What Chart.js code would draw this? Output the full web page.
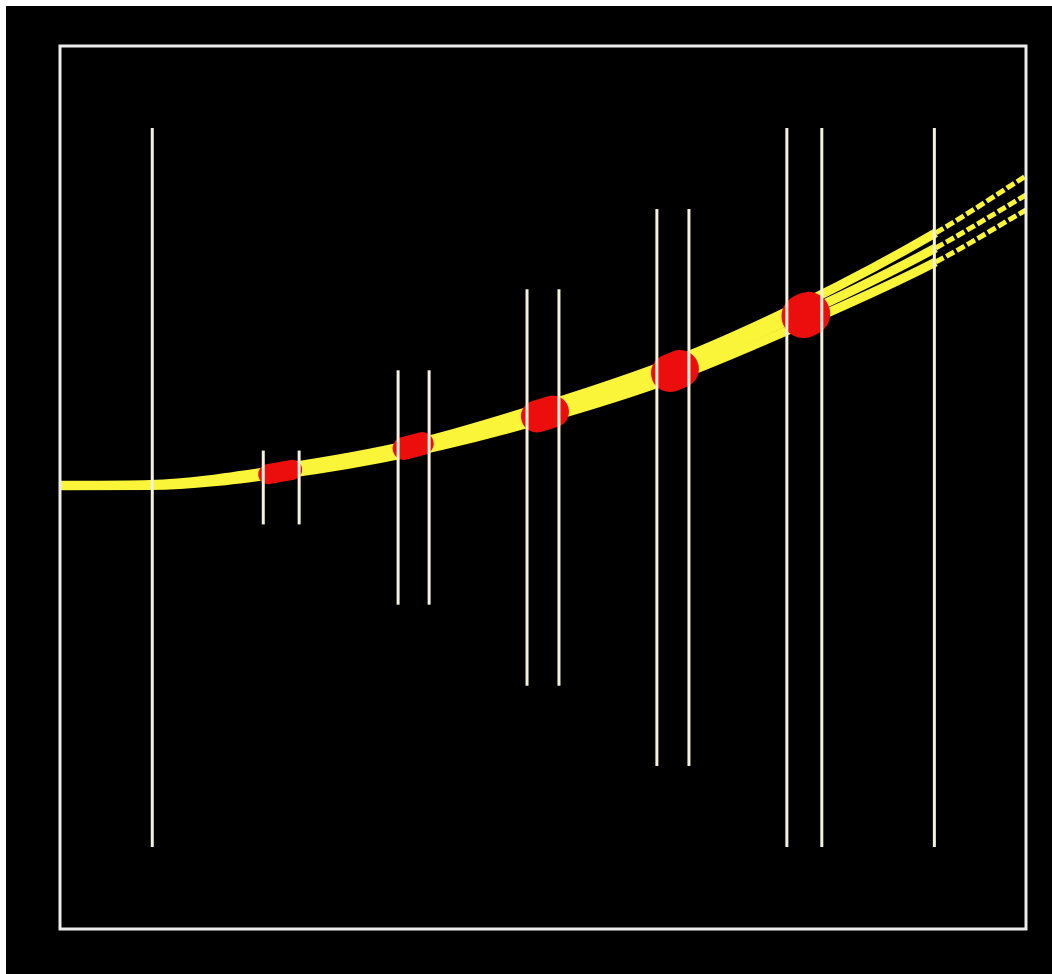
<!DOCTYPE html>
<html>
<head>
<meta charset="utf-8">
<script src="https://cdn.jsdelivr.net/npm/chart.js@4.4.1/dist/chart.umd.min.js"></script>
<style>
  html, body { margin: 0; padding: 0; background: #ffffff; }
  #wrap { position: absolute; left: 6px; top: 6px; width: 1046px; height: 968px; background: #000000; }
</style>
</head>
<body>
<div id="wrap"><canvas id="c"></canvas></div>
<script>
// Vertical window / error lines: x position and half-height (symmetric about 0)
const barX    = [0.015, 0.863, 1.137, 1.893, 2.13, 2.878, 3.122, 3.87, 4.115, 4.863, 5.13, 5.99];
const barHalf = [4.48, 0.46, 0.46, 1.46, 1.46, 2.47, 2.47, 3.47, 3.47, 4.48, 4.48, 4.48];

// Curve band (three nearly coincident curves)
const curveX     = [-0.69, 0, 1, 2, 3, 4, 5, 6, 6.69];
const curveUpper = [0.040, 0.050, 0.240, 0.540, 1.010, 1.570, 2.300, 3.171, 3.881];
const curveMid   = [0.025, 0.031, 0.200, 0.490, 0.928, 1.476, 2.174, 2.984, 3.644];
const curveLower = [0.010, 0.012, 0.160, 0.440, 0.850, 1.370, 2.050, 2.809, 3.457];

// Red blobs centred on the band between each pair of lines
const redXL = [0.900, 1.939, 2.954, 3.970, 4.990];
const redXR = [1.084, 2.077, 3.076, 4.046, 5.026];
const redYL = [0.166, 0.487, 0.886, 1.426, 2.135];
const redYR = [0.220, 0.547, 0.946, 1.476, 2.163];
const redW  = [20, 23, 32, 38, 44];

const datasets = [];
barX.forEach((x, i) => {
  datasets.push({
    data: [{x: x, y: -barHalf[i]}, {x: x, y: barHalf[i]}],
    borderColor: '#f4f1dc', borderWidth: 3, pointRadius: 0, showLine: true, tension: 0
  });
});
redXL.forEach((x, i) => {
  datasets.push({
    data: [{x: x, y: redYL[i]}, {x: redXR[i], y: redYR[i]}],
    borderColor: '#ec0d0d', borderWidth: redW[i], borderCapStyle: 'round',
    pointRadius: 0, showLine: true, tension: 0
  });
});
const mk = (ys) => ({
  data: curveX.map((x, i) => ({x: x, y: ys[i]})),
  borderColor: '#fbf53a', borderWidth: 9, pointRadius: 0, showLine: true,
  cubicInterpolationMode: 'monotone',
  segment: {
    borderDash: ctx => ctx.p0.parsed.x >= 5.99 ? [9, 3] : undefined,
    borderWidth: ctx => ctx.p0.parsed.x >= 5.99 ? 5 : (ctx.p0.parsed.x < 0.5 ? 7 : undefined)
  }
});
datasets.push(mk(curveUpper), mk(curveMid), mk(curveLower));

const framePlugin = {
  id: 'frame',
  afterDraw(chart) {
    const a = chart.chartArea, c = chart.ctx;
    c.save();
    c.strokeStyle = '#ececec';
    c.lineWidth = 3;
    c.strokeRect(a.left, a.top, a.right - a.left, a.bottom - a.top);
    c.restore();
  }
};

new Chart(document.getElementById('c'), {
  type: 'scatter',
  data: { datasets },
  options: {
    responsive: true,
    maintainAspectRatio: false,
    animation: false,
    layout: { padding: { left: 54, top: 40, right: 26, bottom: 45 } },
    plugins: { legend: { display: false }, tooltip: { enabled: false } },
    scales: {
      x: { type: 'linear', min: -0.69, max: 6.69, display: false },
      y: { type: 'linear', min: -5.5, max: 5.5, display: false }
    }
  },
  plugins: [framePlugin]
});
</script>
</body>
</html>
